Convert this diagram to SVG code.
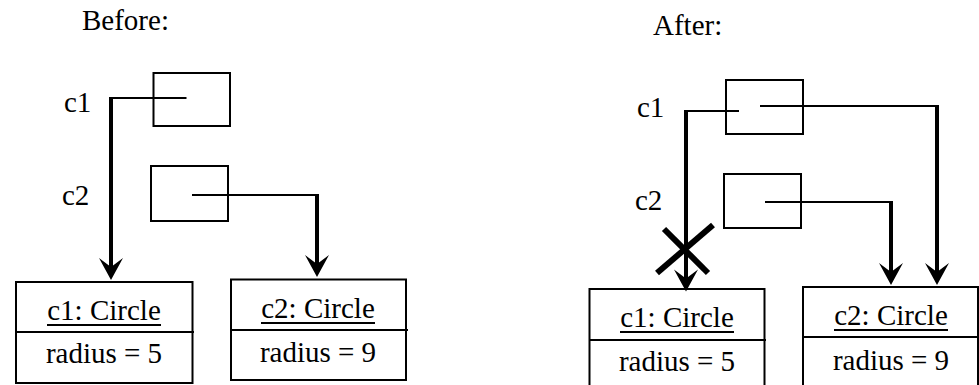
<svg xmlns="http://www.w3.org/2000/svg" width="979" height="385" viewBox="0 0 979 385">
<style>
text{font-family:'Liberation Serif','DejaVu Serif',serif;font-size:29px;fill:#000}
.mid{text-anchor:middle}
.thin{fill:none;stroke:#000;stroke-width:2}
.thick{fill:none;stroke:#000;stroke-width:4}
.box{fill:#fff;stroke:#000;stroke-width:2}
.ul{stroke:#000;stroke-width:2}
.cross{stroke:#000;stroke-width:6}
</style>
<defs>
<marker id="arr" viewBox="-24 -13 25 26" refX="-12" refY="0" markerWidth="25" markerHeight="26" markerUnits="userSpaceOnUse" orient="auto">
<path d="M0,0 L-22,-12 L-13,0 L-22,12 Z" fill="#000"/>
</marker>
</defs>

<g font-family="Liberation Serif, DejaVu Serif, serif">
<text x="82" y="30">Before:</text>
<text x="653" y="35">After:</text>

<g id="before-c1-ref">
<text x="64" y="112">c1</text>
<rect class="box" x="153.5" y="73" width="76.5" height="53"/>
</g>
<g id="before-c2-ref">
<text x="62" y="205">c2</text>
<rect class="box" x="151" y="166" width="77" height="55"/>
</g>
<g id="before-c1-obj">
<rect class="box" x="16" y="282" width="176.5" height="101"/>
<line class="thin" x1="16" y1="332" x2="194" y2="332"/>
<text class="mid" x="104" y="320">c1: Circle</text>
<line class="ul" x1="47" y1="325" x2="161" y2="325"/>
<text class="mid" x="104" y="363">radius = 5</text>
</g>
<g id="before-c2-obj">
<rect class="box" x="231" y="279.5" width="175" height="100.5"/>
<line class="thin" x1="231" y1="330" x2="408" y2="330"/>
<text class="mid" x="318" y="318">c2: Circle</text>
<line class="ul" x1="261" y1="323" x2="375" y2="323"/>
<text class="mid" x="318" y="362">radius = 9</text>
</g>

<g id="after-c1-ref">
<text x="637" y="117">c1</text>
<rect class="box" x="726" y="80" width="77" height="54"/>
</g>
<g id="after-c2-ref">
<text x="635" y="210">c2</text>
<rect class="box" x="724" y="174" width="77" height="54"/>
</g>
<g id="after-c1-obj">
<rect class="box" x="589.5" y="289" width="175" height="110"/>
<line class="thin" x1="589.5" y1="340" x2="766" y2="340"/>
<text class="mid" x="677" y="327">c1: Circle</text>
<line class="ul" x1="620" y1="332" x2="734" y2="332"/>
<text class="mid" x="677" y="371">radius = 5</text>
</g>
<g id="after-c2-obj">
<rect class="box" x="803" y="287" width="175" height="110"/>
<line class="thin" x1="803" y1="337" x2="978" y2="337"/>
<text class="mid" x="891" y="325">c2: Circle</text>
<line class="ul" x1="834" y1="330" x2="948" y2="330"/>
<text class="mid" x="891" y="370">radius = 9</text>
</g>
</g>

<g id="connectors">
<line class="thin" x1="186.5" y1="98" x2="109" y2="98"/>
<path class="thick" d="M111,97 V268" marker-end="url(#arr)"/>
<line class="thin" x1="192" y1="195" x2="319" y2="195"/>
<path class="thick" d="M317,194 V265" marker-end="url(#arr)"/>
<line class="thin" x1="739" y1="111" x2="684" y2="111"/>
<path class="thick" d="M686,110 V279.5" marker-end="url(#arr)"/>
<line class="thin" x1="760" y1="106" x2="939" y2="106"/>
<path class="thick" d="M937,105 V273" marker-end="url(#arr)"/>
<line class="thin" x1="765" y1="202" x2="893" y2="202"/>
<path class="thick" d="M891,201 V273" marker-end="url(#arr)"/>
<g id="cross">
<line class="cross" x1="664" y1="229" x2="708" y2="273"/>
<line class="cross" x1="713" y1="225" x2="657" y2="273"/>
</g>
</g>
</svg>
